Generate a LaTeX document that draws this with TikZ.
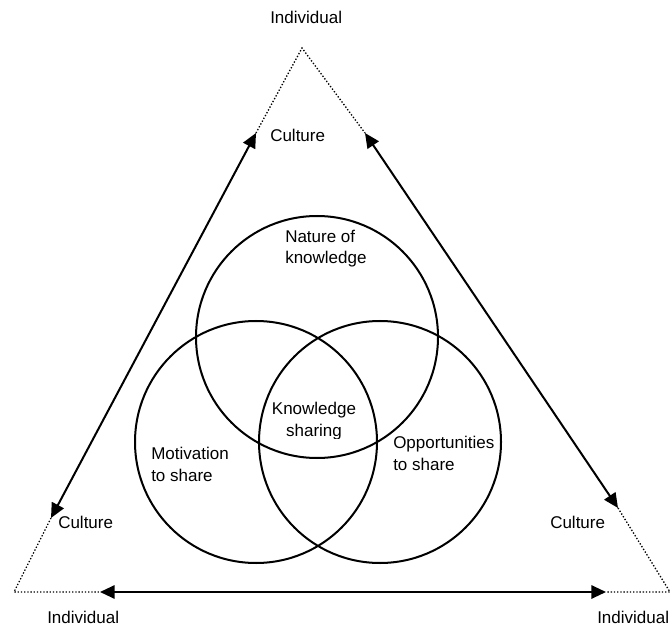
\documentclass[tikz,border=0pt]{standalone}
\usepackage{fontspec}
\setmainfont{Liberation Sans}
\usetikzlibrary{arrows.meta}
\begin{document}
\begin{tikzpicture}[x=0.75pt,y=-0.75pt,
  lbl/.style={inner sep=0pt, anchor=base west, align=left,
              font=\fontsize{12.75pt}{16.5pt}\selectfont},
  ring/.style={circle, draw, line width=1.5pt, minimum size=181.5pt, inner sep=0pt},
  twoway/.style={line width=1.5pt,
     {Triangle[length=11pt,width=10pt]}-{Triangle[length=11pt,width=10pt]}},
  dotline/.style={line width=1pt, dash pattern=on 1pt off 1.4pt}]
\useasboundingbox (0,0) rectangle (671,627);

% corners of the triangle and ends of the arrows on its sides
\coordinate (apex) at (302,48);
\coordinate (bl) at (14,592);
\coordinate (br) at (670,592);
\coordinate (l1) at (256,133);
\coordinate (l2) at (51,518);
\coordinate (r1) at (365,133);
\coordinate (r2) at (618,508);
\coordinate (b1) at (100,592);
\coordinate (b2) at (606,592);

% dotted corner pieces
\draw[dotline] (l1) -- (apex) -- (r1);
\draw[dotline] (l2) -- (bl) -- (b1);
\draw[dotline] (r2) -- (br) -- (b2);

% two-way arrows along the sides
\draw[twoway] (l1) -- (l2);
\draw[twoway] (r1) -- (r2);
\draw[twoway] (b1) -- (b2);

% the three overlapping circles
\node[ring] (nature) at (317,337) {};
\node[ring] (motiv) at (256,442) {};
\node[ring] (oppor) at (380,442) {};

% corner labels
\node[lbl] (indT) at (270,24) {Individual};
\node[lbl] (culT) at (270,142) {Culture};
\node[lbl] (culL) at (58,528) {Culture};
\node[lbl] (indL) at (47,623) {Individual};
\node[lbl] (culR) at (550,528) {Culture};
\node[lbl] (indR) at (597,623) {Individual};

% circle labels (the base anchor sits on the last line)
\node[lbl] (natT) at (285,264) {Nature of\\knowledge};
\node[lbl] (motT) at (151,481) {Motivation\\to share};
\node[lbl] (oppT) at (393,470) {Opportunities\\to share};
\begin{scope}
  \clip (240,380) rectangle (390,438);
  \node[lbl, anchor=base, align=center] (ksT) at (314,436) {Knowledge\\sharing};
\end{scope}
\end{tikzpicture}
\end{document}
